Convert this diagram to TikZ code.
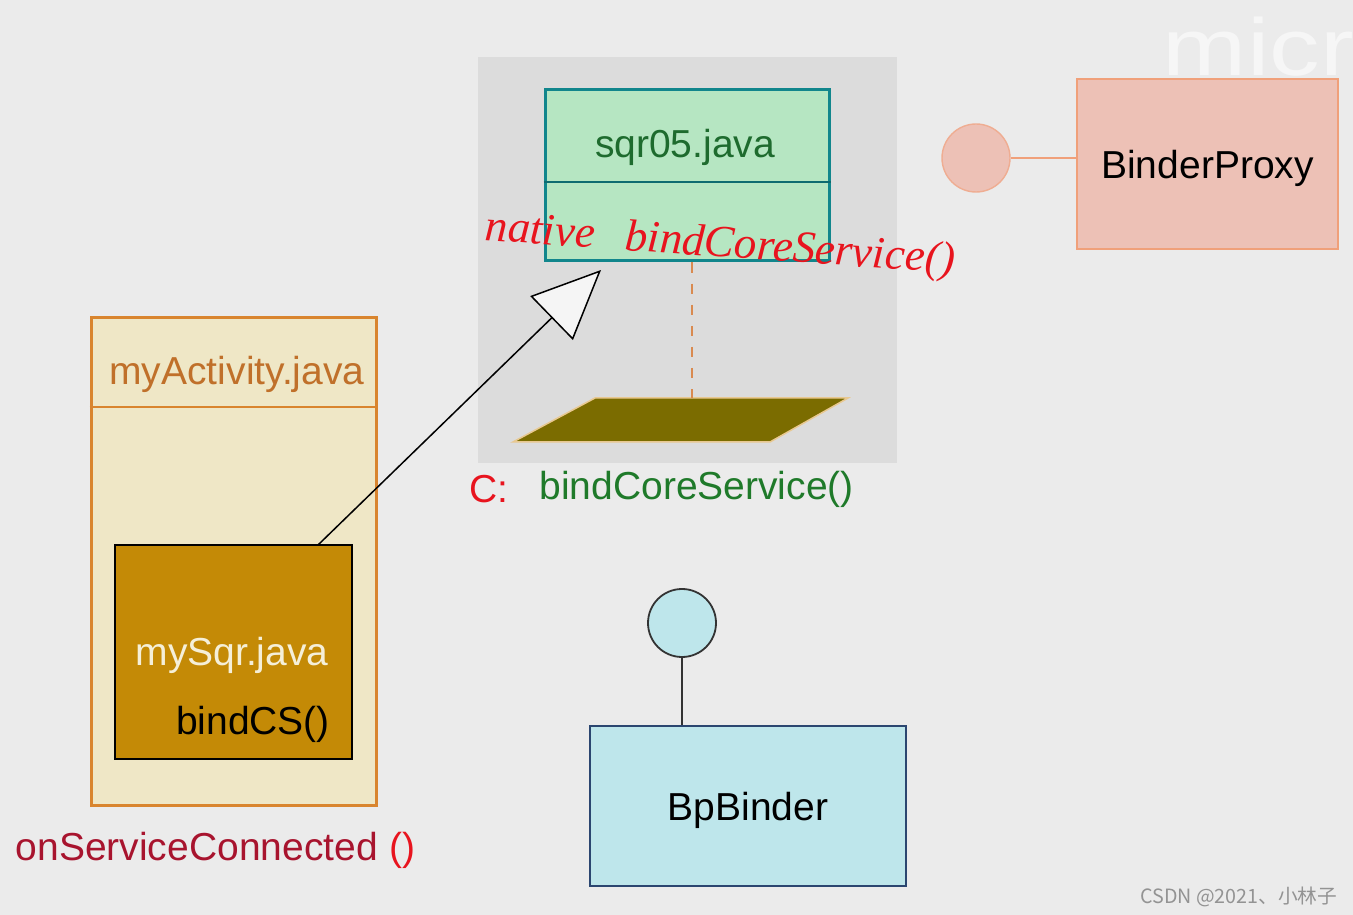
\documentclass[tikz,border=0pt]{standalone}
\usepackage{fontspec}
\setmainfont{Liberation Sans}
\newfontfamily\handfont{Liberation Serif}
\newfontfamily\cjkfont{Noto Sans CJK SC}
\usepackage{tikz}
\usetikzlibrary{arrows.meta}
\usetikzlibrary{positioning}

\definecolor{bgcol}{HTML}{EBEBEB}
\definecolor{panelcol}{HTML}{DCDCDC}
\definecolor{sqrfill}{HTML}{B6E6C2}
\definecolor{sqredge}{HTML}{11868C}
\definecolor{sqrtext}{HTML}{1E6B2E}
\definecolor{actfill}{HTML}{EFE7C6}
\definecolor{actedge}{HTML}{D9852E}
\definecolor{acttext}{HTML}{C0702A}
\definecolor{mysqrfill}{HTML}{C48A06}
\definecolor{mysqrtext}{HTML}{F5EFD8}
\definecolor{olive}{HTML}{7B6C00}
\definecolor{oliveedge}{HTML}{E8C890}
\definecolor{dashcol}{HTML}{D98A50}
\definecolor{pinkfill}{HTML}{EDC1B6}
\definecolor{pinkedge}{HTML}{F0A07A}
\definecolor{bluefill}{HTML}{BEE6EB}
\definecolor{blueedge}{HTML}{2B4670}
\definecolor{handred}{HTML}{E8141E}
\definecolor{callgreen}{HTML}{1F7A2A}
\definecolor{cbred}{HTML}{A8142E}

\begin{document}
\begin{tikzpicture}[x=0.1mm, y=-0.1mm,
    font=\fontsize{11.1}{13}\selectfont,
    classbox/.style={draw, rectangle, inner sep=0pt},
    lolly/.style={draw, circle, inner sep=0pt, minimum size=6.8mm},
    hand/.style={text=handred, font=\handfont\itshape\fontsize{12.8}{14}\selectfont}]
        % background
        \fill[bgcol] (0,0) rectangle (1353,915);
        \useasboundingbox (0,0) rectangle (1353,915);
        % watermarks
        \begin{scope}
            \clip (0,0) rectangle (1353,915);
            \node[anchor=base west, inner sep=0pt, xscale=1.25, text=white!55!bgcol, font=\fontsize{23}{26}\selectfont] (wmark) at (1162,76) {micr};
        \end{scope}
        \node[anchor=base east, inner sep=0pt, text=gray!85, font=\cjkfont\fontsize{5.6}{7}\selectfont] (csdn) at (1338,903) {CSDN @2021、小林子};

        % shaded panel
        \fill[panelcol] (478,57) rectangle (897,463);

        % sqr05 class
        \node[classbox, draw=sqredge, fill=sqrfill, line width=0.3mm, minimum width=28.4mm, minimum height=17.1mm] (sqr) at (687,175.5) {};
        \draw[sqredge!80!black, line width=0.15mm] (sqr.west |- 0,182) -- (sqr.east |- 0,182);
        \node[text=sqrtext] (sqrname) at (685,147) {sqr05.java};
        \node[hand, rotate=-4] (native) at (720,246) {native\hspace{3mm}bindCoreService()};

        % native part
        \coordinate (paratop) at (692,398);
        \fill[olive, draw=oliveedge, line width=0.15mm] (513,442) -- (595,398) -- (848,398) -- (770,442) -- cycle;
        \draw[dashcol, dashed, line width=0.15mm] (sqr.south -| paratop) -- (paratop);
        \node[text=callgreen, anchor=west] (cfunc) at (527,489) {bindCoreService()};
        \node[text=handred, left=0.6mm of cfunc] (cmark) {C:};

        % myActivity
        \node[classbox, draw=actedge, fill=actfill, line width=0.3mm, minimum width=28.5mm, minimum height=48.7mm] (act) at (233.5,561.5) {};
        \draw[actedge, line width=0.12mm] (act.west |- 0,407) -- (act.east |- 0,407);
        \node[text=acttext] (actname) at (237,374) {myActivity.java};
        \node[classbox, draw=black, fill=mysqrfill, line width=0.15mm, minimum width=23.7mm, minimum height=21.4mm] (mysqr) at (233.5,652) {};
        \node[text=mysqrtext] (mysqrname) at (232,655) {mySqr.java};
        \node (bindcs) at (253,724) {bindCS()};
        \node[anchor=west, inner sep=0pt] (conn) at (15,850) {\textcolor{cbred}{onServiceConnected}\hspace{1.2mm}\textcolor{handred}{()}};

        % inheritance arrow
        \coordinate (src) at (318,545);
        \coordinate (tip) at (601,270);
        \draw[line width=0.15mm, -{Triangle[length=6.9mm, width=6.1mm, fill=gray!8]}] (src) -- (tip);

        % BinderProxy
        \node[classbox, draw=pinkedge, fill=pinkfill, line width=0.2mm, minimum width=26.1mm, minimum height=17mm, text depth=0pt] (proxy) at (1207.5,164) {BinderProxy};
        \node[lolly, draw=pinkedge!60!pinkfill, fill=pinkfill] (pcirc) at (976,158) {};
        \draw[pinkedge, line width=0.2mm] (pcirc.east) -- (pcirc.east -| proxy.west);

        % BpBinder
        \node[classbox, draw=blueedge, fill=bluefill, line width=0.2mm, minimum width=31.6mm, minimum height=16mm, text depth=0pt] (bp) at (748,806) {BpBinder};
        \node[lolly, draw=black!80, fill=bluefill, line width=0.18mm] (bcirc) at (682,623) {};
        \draw[black!80, line width=0.18mm] (bcirc.south) -- (bcirc.south |- bp.north);
\end{tikzpicture}
\end{document}
